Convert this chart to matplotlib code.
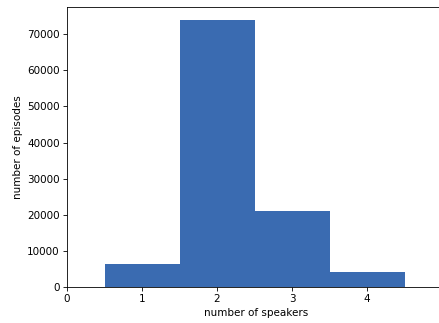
import matplotlib
matplotlib.use("Agg")
import matplotlib.pyplot as plt

# Anzahl Sprecher pro Episode
speakers = [1, 2, 3, 4]
episodes = [6350, 73850, 21000, 4100]

W, H = 440, 323
dpi = 75
fig = plt.figure(figsize=(W / dpi, H / dpi), dpi=dpi)
left, right, top, bottom = 67, 445, 7, 287
ax = fig.add_axes([left / W, 1 - bottom / H, (right - left) / W, (bottom - top) / H])

ax.hist(speakers, bins=[0.5, 1.5, 2.5, 3.5, 4.5], weights=episodes, color='#3a6bb1')
ax.set_xlim(0, 5.04)
ax.set_xticks([0, 1, 2, 3, 4])
ax.set_yticks(range(0, 70001, 10000))
ax.set_xlabel('number of speakers')
ax.set_ylabel('number of episodes')
# rechter Rand liegt ausserhalb des Bildes
ax.spines['right'].set_visible(False)

fig.savefig('out.png')
